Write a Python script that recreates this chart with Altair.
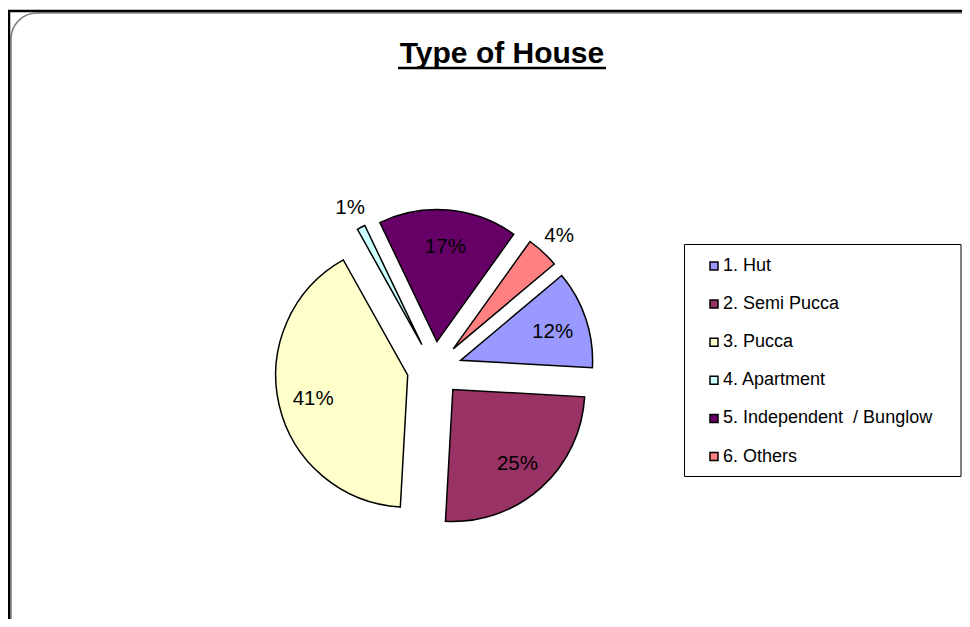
import math
import altair as alt
import pandas as pd

# ---- data ----
categories = ["1. Hut", "2. Semi Pucca", "3. Pucca", "4. Apartment",
              "5. Independent  / Bunglow", "6. Others"]
shares = [12, 25, 41, 1, 17, 4]
colors = ["#9999FF", "#993366", "#FFFFCC", "#CCFFFF", "#660066", "#FF8080"]
title_text = "Type of House"

df = pd.DataFrame({"category": categories, "share": shares,
                   "order": list(range(len(categories)))})

# ---- layout constants (pixels in plot area) ----
W, H = 954, 611
CX, CY = 426.5, 361.0
R = 132
EXPLODE = 27.5
START = math.radians(50)
LBL_IN = EXPLODE + 97
LBL_OUT = EXPLODE + 156
FONT = "Liberation Sans"

base = (
    alt.Chart(df)
    .transform_joinaggregate(total="sum(share)")
    .transform_window(cum="sum(share)", sort=[alt.SortField("order")], frame=[None, 0])
    .transform_calculate(
        t0=f"{START} + 2*PI*(datum.cum - datum.share)/datum.total",
        t1=f"{START} + 2*PI*datum.cum/datum.total",
    )
    .transform_calculate(mid="(datum.t0 + datum.t1)/2")
    .transform_calculate(
        px=f"{CX} + {EXPLODE}*sin(datum.mid)",
        py=f"{CY} - {EXPLODE}*cos(datum.mid)",
        lr=f"datum.share < 5 ? {LBL_OUT} : {LBL_IN}",
        label="round(100*datum.share/datum.total) + '%'",
    )
    .transform_calculate(
        lx=f"{CX} + datum.lr*sin(datum.mid)",
        ly=f"{CY} - datum.lr*cos(datum.mid)",
    )
)

arcs = base.mark_arc(radius=R, stroke="black", strokeWidth=1.5).encode(
    x=alt.X("px:Q", scale=None, axis=None),
    y=alt.Y("py:Q", scale=None, axis=None),
    theta=alt.Theta("t0:Q", scale=None),
    theta2=alt.Theta2("t1:Q"),
    color=alt.Color(
        "category:N",
        scale=alt.Scale(domain=categories, range=colors),
        legend=alt.Legend(
            title=None, orient="none", legendX=697, legendY=249,
            symbolType="square", symbolSize=64, symbolStrokeColor="black",
            symbolStrokeWidth=1.5, labelFont=FONT, labelFontSize=18,
            labelColor="black", labelOffset=0, rowPadding=20.1, padding=0,
            labelLimit=400,
            labelExpr="replace(datum.label, '  ', ' \u00a0')",
        ),
    ),
    order=alt.Order("order:Q"),
)

labels = base.mark_text(font=FONT, fontSize=20.5, color="black",
                        align="center", baseline="middle", dy=2).encode(
    x=alt.X("lx:Q", scale=None, axis=None),
    y=alt.Y("ly:Q", scale=None, axis=None),
    text="label:N",
)

deco = alt.Chart(pd.DataFrame({"k": [0]}))

frame_round = deco.mark_rect(cornerRadius=26, fillOpacity=0, stroke="#7f7f7f",
                             strokeWidth=1.5).encode(
    x=alt.value(3), x2=alt.value(1100), y=alt.value(5), y2=alt.value(800))
frame_top = deco.mark_rule(color="black", strokeWidth=2.5).encode(
    x=alt.value(0), x2=alt.value(W), y=alt.value(3))
frame_left = deco.mark_rule(color="black", strokeWidth=2.5).encode(
    x=alt.value(1), y=alt.value(2), y2=alt.value(H))

legend_box = deco.mark_rect(fillOpacity=0, stroke="black", strokeWidth=1).encode(
    x=alt.value(676.5), x2=alt.value(953), y=alt.value(236.5), y2=alt.value(468.5))

title = deco.mark_text(font=FONT, fontSize=30, fontWeight="bold", color="black",
                       align="center", baseline="alphabetic").encode(
    x=alt.value(494), y=alt.value(55), text=alt.value(title_text))
underline = deco.mark_rule(color="black", strokeWidth=2.5).encode(
    x=alt.value(390), x2=alt.value(598), y=alt.value(60))

chart = alt.layer(
    frame_round, frame_top, frame_left, legend_box, arcs, labels, title, underline
).properties(width=W, height=H, autosize="none", padding=0).configure_view(stroke=None)

chart.save("out.html", embed_options={"renderer": "svg", "actions": False})
